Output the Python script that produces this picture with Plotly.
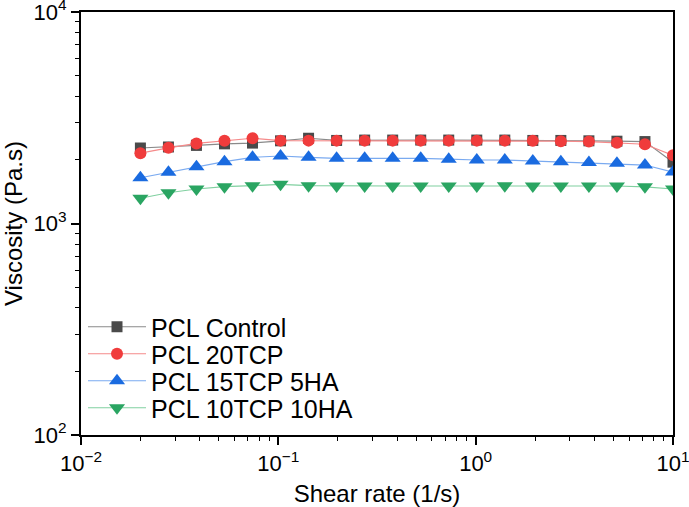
import plotly.graph_objects as go

shear_rate = [0.02, 0.02774, 0.03847, 0.05335, 0.07399, 0.1026, 0.1423, 0.1974,
              0.2738, 0.3797, 0.5266, 0.7303, 1.0129, 1.4048, 1.948, 2.702,
              3.748, 5.198, 7.209, 10.0]

pcl_control = [2275, 2300, 2340, 2380, 2400, 2460, 2530, 2470, 2480, 2480,
               2480, 2480, 2480, 2480, 2470, 2470, 2460, 2450, 2440, 1950]
pcl_20tcp = [2150, 2280, 2390, 2460, 2530, 2465, 2465, 2465, 2465, 2465,
             2465, 2465, 2465, 2465, 2460, 2450, 2440, 2410, 2370, 2100]
pcl_15tcp_5ha = [1646, 1746, 1856, 1960, 2056, 2085, 2056, 2034, 2034, 2034,
                 2034, 2015, 1996, 1996, 1975, 1960, 1945, 1925, 1890, 1750]
pcl_10tcp_10ha = [1316, 1398, 1456, 1493, 1509, 1532, 1509, 1504, 1504, 1504,
                  1504, 1504, 1504, 1509, 1504, 1504, 1504, 1504, 1490, 1456]

series_names = ["PCL Control", "PCL 20TCP", "PCL 15TCP 5HA", "PCL 10TCP 10HA"]
series_values = [pcl_control, pcl_20tcp, pcl_15tcp_5ha, pcl_10tcp_10ha]

x_tick_vals = [0.01, 0.1, 1, 10]
x_tick_text = ["10<sup>−2</sup>", "10<sup>−1</sup>", "10<sup>0</sup>", "10<sup>1</sup>"]
y_tick_vals = [100, 1000, 10000]
y_tick_text = ["10<sup>2</sup>", "10<sup>3</sup>", "10<sup>4</sup>"]

marker_colors = ["#4a4a4a", "#f03c3c", "#1a6be0", "#2aa562"]
line_colors = ["#8a8a8a", "#f58a8a", "#7aaaf0", "#80d0a0"]
symbols = ["square", "circle", "triangle-up", "triangle-down"]
sizes = [11, 12, 14, 14]

# layout constants
L, R, T, B = 81, 16, 12, 72
W, H = 689, 507
PH = H - T - B
PW = W - L - R
legend_centers_px = [327, 354, 381, 408]

fig = go.Figure()
for i, (name, vals, mc, lc, sym, sz) in enumerate(zip(series_names, series_values, marker_colors,
                                                      line_colors, symbols, sizes)):
    fig.add_trace(go.Scatter(
        x=shear_rate, y=vals, name=name, mode="lines+markers",
        line=dict(color=lc, width=1.2),
        marker=dict(color=mc, symbol=sym, size=sz, line=dict(width=0)),
        legend="legend" if i == 0 else f"legend{i+1}",
    ))

axis_common = dict(
    type="log", showgrid=False, zeroline=False, automargin=False,
    showline=True, linecolor="black", linewidth=2, mirror=True,
    ticks="outside", ticklen=8, tickwidth=1.5, tickcolor="black",
    tickmode="array", ticklabeloverflow="allow",
    tickfont=dict(family="Liberation Sans, Arial", size=22, color="black"),
    minor=dict(ticks="outside", ticklen=4, tickwidth=1.2, tickcolor="black",
               dtick="D1", showgrid=False),
)

layout_kwargs = dict(
    width=W, height=H,
    margin=dict(l=L, r=R, t=T, b=B),
    paper_bgcolor="white", plot_bgcolor="white",
    font=dict(family="Liberation Sans, Arial", color="black"),
    xaxis=dict(axis_common, range=[-2, 1], tickvals=x_tick_vals, ticktext=x_tick_text,
               title=dict(text="Shear rate (1/s)", font=dict(size=24), standoff=16)),
    yaxis=dict(axis_common, range=[2, 4], tickvals=y_tick_vals, ticktext=y_tick_text,
               title=dict(text="Viscosity (Pa.s)", font=dict(size=24), standoff=10)),
    showlegend=True,
)
for i, yc in enumerate(legend_centers_px):
    key = "legend" if i == 0 else f"legend{i+1}"
    layout_kwargs[key] = dict(
        x=(83 - L) / PW, y=(H - B - yc) / PH, xanchor="left", yanchor="middle",
        bgcolor="rgba(0,0,0,0)", font=dict(size=25), itemwidth=58,
    )
fig.update_layout(**layout_kwargs)

fig.write_html("out.html")
